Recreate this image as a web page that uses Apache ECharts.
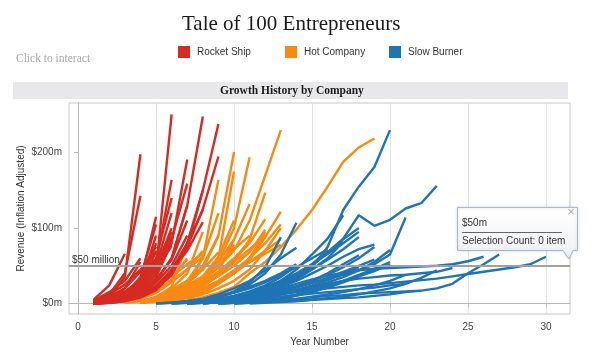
<!DOCTYPE html>
<html><head><meta charset="utf-8">
<script src="https://cdn.jsdelivr.net/npm/echarts@6/dist/echarts.min.js"></script>
<style>html,body{margin:0;padding:0;background:#fff}#chart{width:595px;height:353px}</style>
</head><body><div id="chart"></div>
<script>
// ---- data (each row: [startYear, revenue at startYear, next year, ...], $m) ----
const categories = ['Rocket Ship', 'Hot Company', 'Slow Burner'];
const yearTicks = [0, 5, 10, 15, 20, 25, 30];
const revenueTicks = [0, 100, 200];
const referenceValue = 50;

const rocketShip = [
  [1, 5, 24, 66],
  [1, 2, 8, 35, 198],
  [1, 3, 12, 40, 143],
  [1, 2, 6, 20, 55],
  [1, 4, 15, 30, 60],
  [1, 0, 3, 10, 30, 115],
  [1, 1, 4, 12, 35, 105],
  [1, 0, 2, 8, 25, 90],
  [1, 1, 3, 9, 22, 80],
  [1, 0, 2, 6, 18, 70],
  [1, 1, 5, 15, 28, 48, 100],
  [1, 0, 2, 8, 20, 45, 251],
  [1, 1, 3, 10, 25, 55, 164],
  [1, 0, 3, 9, 28, 60, 140],
  [1, 1, 2, 7, 20, 50, 120],
  [1, 0, 2, 6, 16, 40, 95],
  [1, 0, 2, 5, 14, 35, 80, 191],
  [1, 1, 3, 7, 18, 40, 85, 159],
  [1, 0, 1, 4, 12, 30, 60, 130],
  [1, 1, 2, 6, 15, 32, 58, 110],
  [1, 0, 2, 5, 12, 28, 50, 90],
  [1, 0, 2, 5, 12, 30, 60, 130, 248],
  [1, 0, 1, 4, 10, 22, 45, 80, 124],
  [1, 1, 2, 5, 11, 24, 44, 70, 108],
  [1, 0, 1, 3, 8, 18, 40, 80, 150, 238],
  [1, 0, 2, 4, 9, 20, 42, 75, 125, 195],
  [1, 0, 1, 3, 8, 18, 38, 75, 150],
  [1, 3, 9, 20, 42, 75],
  [1, 2, 6, 14, 30, 55, 88],
  [1, 4, 12, 25, 45, 68],
  [1, 2, 6, 15, 32, 58],
  [1, 2, 6, 12, 24, 45, 76],
  [1, 3, 8, 16, 30, 52, 85]
];

const hotCompany = [
  [4, 1, 4, 10, 18, 30, 48, 70, 110, 170, 230],
  [4, 2, 6, 14, 26, 45, 90, 201],
  [4, 1, 4, 9, 18, 32, 55, 100, 194],
  [5, 2, 6, 14, 28, 60, 175],
  [4, 1, 5, 12, 25, 60, 164],
  [4, 1, 3, 7, 14, 24, 38, 55, 85, 147],
  [5, 1, 4, 9, 16, 26, 40, 58, 88, 122],
  [4, 2, 5, 10, 20, 35, 55, 85, 132],
  [4, 2, 6, 14, 30, 60, 120],
  [4, 1, 4, 10, 20, 36, 62, 110],
  [5, 2, 5, 10, 18, 28, 42, 60, 80, 105],
  [5, 1, 3, 7, 12, 20, 30, 45, 70, 100],
  [3, 1, 3, 8, 16, 30, 50, 90],
  [4, 1, 3, 8, 15, 26, 42, 85],
  [5, 1, 4, 9, 16, 26, 40, 60, 95],
  [3, 2, 6, 14, 28, 45, 70],
  [4, 3, 9, 20, 40, 95],
  [3, 1, 6, 15, 32, 60],
  [4, 2, 8, 22, 80],
  [5, 2, 7, 14, 24, 36, 50, 68, 98],
  [5, 2, 6, 12, 20, 30, 42, 55, 66, 78],
  [4, 1, 4, 10, 20, 35, 60],
  [5, 3, 10, 20, 32, 48, 75],
  [5, 2, 8, 16, 28, 42, 60, 82],
  [6, 3, 9, 18, 30, 44, 60, 88],
  [3, 2, 8, 18, 30, 45, 62],
  [4, 2, 8, 18, 30, 45, 68],
  [4, 2, 6, 14, 24, 36, 50, 78],
  [5, 3, 10, 20, 34, 50, 72, 90],
  [3, 2, 8, 20, 38, 58],
  [6, 4, 12, 24, 38, 55, 72, 90],
  [7, 5, 14, 26, 40, 55, 70, 85],
  [6, 1, 4, 8, 14, 22, 40, 55, 75, 98, 124, 155, 188, 207, 219],
  [3, 3, 10, 22, 36, 52, 66],
  [5, 2, 6, 12, 22, 38, 58, 80, 112]
];

const slowBurner = [
  [8, 1, 3, 6, 10, 15, 22, 32, 48, 75, 124, 155, 181, 230],
  [8, 1, 3, 6, 10, 16, 24, 35, 50, 68, 86, 117, 103, 111, 126, 133, 156],
  [7, 0, 2, 4, 7, 10, 14, 18, 23, 28, 33, 38, 44, 52, 65, 114],
  [7, 0, 3, 8, 15, 25, 40, 65, 107],
  [7, 0, 3, 8, 16, 28, 48, 88],
  [8, 1, 4, 8, 13, 20, 30, 45, 65, 86, 117],
  [8, 1, 3, 6, 10, 15, 22, 32, 45, 60, 82],
  [9, 1, 3, 6, 10, 15, 22, 30, 38, 48, 60, 75],
  [9, 1, 2, 5, 8, 12, 17, 22, 28, 35, 44, 55, 71],
  [9, 0, 2, 5, 8, 12, 15, 18, 20, 22, 24, 25, 27, 29, 31, 33, 36, 39, 42, 45, 48, 52, 62],
  [9, 0, 1, 2, 3, 5, 6, 8, 10, 11, 13, 14, 15, 16, 17, 20, 26, 40, 52, 65],
  [8, 1, 3, 6, 10, 15, 20, 26, 32, 37, 41, 44, 46, 47, 48, 49, 50, 52, 56, 62],
  [8, 0, 2, 4, 7, 10, 14, 18, 22, 26, 30, 33, 35, 37, 38, 40, 42, 47],
  [6, 0, 1, 3, 6, 10, 16, 24, 35, 50],
  [7, 0, 2, 5, 9, 14, 20, 28, 38, 52, 70],
  [6, 1, 3, 6, 12, 20, 30, 44, 60, 74],
  [8, 0, 2, 4, 7, 11, 16, 22, 30, 40, 52, 64],
  [9, 0, 1, 3, 5, 8, 12, 17, 23, 30, 38, 46, 55],
  [7, 0, 1, 3, 5, 8, 12, 16, 21, 27, 34, 42, 50, 58],
  [8, 1, 2, 4, 6, 9, 12, 16, 20, 25, 30, 36, 43, 52],
  [6, 0, 2, 5, 9, 14, 20, 28, 38, 48, 60, 72],
  [7, 0, 1, 2, 4, 6, 9, 13, 18, 24, 31, 39, 48],
  [9, 0, 1, 1, 2, 3, 4, 5, 6, 7, 8, 10, 12, 15, 17],
  [10, 0, 1, 3, 6, 10, 15, 21, 28, 36, 45],
  [8, 0, 2, 5, 10, 17, 26, 38, 52, 66, 80, 95],
  [7, 1, 3, 6, 10, 15, 22, 30, 40, 52, 66, 85, 100],
  [5, 0, 1, 3, 6, 10, 15, 22, 30, 40, 52],
  [6, 0, 1, 2, 4, 7, 11, 16, 22, 30, 40, 50, 62, 72, 78],
  [5, 0, 1, 2, 4, 6, 9, 13, 18, 25, 34, 45, 58, 72, 88],
  [10, 0, 1, 2, 4, 6, 9, 12, 15, 19, 24, 30, 38],
  [7, 0, 1, 2, 3, 5, 7, 9, 11, 13, 15, 17, 19, 21, 24, 26],
  [11, 0, 1, 2, 3, 5, 7, 9, 12, 16, 20, 26, 34, 44]
];

// ---- styling ----
const COLORS = { 'Rocket Ship': '#d62b22', 'Hot Company': '#f88a12', 'Slow Burner': '#1f74b4' };
const SANS = '"Liberation Sans", Arial, sans-serif';
const SERIF = '"Liberation Serif", "Times New Roman", serif';

function toSeries(list, name) {
  const color = COLORS[name];
  return list.map(row => ({
    type: 'line', name: name, color: color,
    data: row.slice(1).map((v, i) => [row[0] + i, v]),
    symbol: 'none', showSymbol: false, silent: true,
    lineStyle: { width: 2.4, color: color },
    itemStyle: { color: color },
    emphasis: { disabled: true },
    animation: false
  }));
}

const series = [].concat(
  toSeries(hotCompany, 'Hot Company'),
  toSeries(rocketShip, 'Rocket Ship'),
  toSeries(slowBurner, 'Slow Burner')
);
series[series.length - 1].markLine = {
  silent: true, symbol: 'none', animation: false,
  lineStyle: { color: '#a0a0a0', width: 2, type: 'solid' },
  label: { show: true, position: 'insideStartTop', formatter: '$50 million',
           color: '#333', fontSize: 10, fontFamily: SANS, distance: [3, 1] },
  emphasis: { disabled: true },
  data: [{ yAxis: referenceValue }]
};

const legendBase = (name, left) => ({
  data: [name], left: left, top: 46, padding: 0, itemWidth: 12, itemHeight: 12, icon: 'rect',
  textStyle: { fontSize: 10, fontFamily: SANS, color: '#333', padding: [0, 0, 0, 2] }, selectedMode: false
});

const boxFill = { type: 'linear', x: 0, y: 0, x2: 0, y2: 1,
  colorStops: [{ offset: 0, color: '#ffffff' }, { offset: 1, color: '#eef0f3' }] };

const chart = echarts.init(document.getElementById('chart'), null, { renderer: 'canvas' });
chart.setOption({
  backgroundColor: '#fff',
  animation: false,
  title: [
    { text: 'Tale of 100 Entrepreneurs', left: 177, top: 9,
      textStyle: { fontFamily: SERIF, fontSize: 21, fontWeight: 'normal', color: '#1a1a1a' } },
    { text: 'Growth History by Company', left: 220, top: 85, padding: 0,
      textStyle: { fontFamily: SERIF, fontSize: 11.5, fontWeight: 'bold', color: '#1a1a1a' } }
  ],
  legend: [ legendBase(categories[0], 178), legendBase(categories[1], 285), legendBase(categories[2], 389) ],
  graphic: [
    { type: 'rect', z: -1, shape: { x: 13, y: 82, width: 555, height: 17 }, style: { fill: '#e8e8ea' } },
    { type: 'text', x: 16, y: 59, style: { text: 'Click to interact', font: '11.5px ' + SERIF, fill: '#a8a8a8', verticalAlign: 'middle' } },
    { type: 'polygon', z: 100,
      shape: { points: [[457.5, 207.5], [577.5, 207.5], [577.5, 250.5], [573, 250.5], [569, 259], [563, 250.5], [457.5, 250.5]] },
      style: { fill: boxFill, stroke: '#a6bad0', lineWidth: 1, shadowBlur: 3, shadowColor: 'rgba(0,0,0,0.15)' } },
    { type: 'text', z: 101, x: 462, y: 223, style: { text: '$50m', font: '10px ' + SANS, fill: '#333', verticalAlign: 'middle' } },
    { type: 'line', z: 101, shape: { x1: 462, y1: 232.5, x2: 562, y2: 232.5 }, style: { stroke: '#666', lineWidth: 1 } },
    { type: 'text', z: 101, x: 462, y: 241, style: { text: 'Selection Count: 0 item', font: '10px ' + SANS, fill: '#333', verticalAlign: 'middle' } },
    { type: 'text', z: 101, x: 571, y: 212, style: { text: '×', font: '13px ' + SANS, fill: '#aaa', align: 'center', verticalAlign: 'middle' } }
  ],
  grid: { left: 69, right: 25, top: 103, bottom: 39, show: true, borderColor: '#c6c6c6', borderWidth: 1, backgroundColor: 'transparent' },
  xAxis: {
    type: 'value', min: -0.58, max: 31.54,
    name: 'Year Number', nameLocation: 'middle', nameGap: 23, nameMoveOverlap: false,
    nameTextStyle: { fontSize: 10, fontFamily: SANS, color: '#333' },
    axisLine: { show: true, lineStyle: { color: '#b8b8b8' } },
    axisTick: { show: true, length: 4, customValues: yearTicks, lineStyle: { color: '#b8b8b8' } },
    axisLabel: { customValues: yearTicks, margin: 8, fontSize: 10, fontFamily: SANS, color: '#444' },
    splitLine: { show: true, lineStyle: { color: '#e3e3e3', width: 1 } }
  },
  yAxis: {
    type: 'value', min: -14, max: 266,
    name: 'Revenue (Inflation Adjusted)', nameLocation: 'middle', nameGap: 43, nameRotate: 90, nameMoveOverlap: false,
    nameTextStyle: { fontSize: 10, fontFamily: SANS, color: '#333' },
    axisLine: { show: true, lineStyle: { color: '#b8b8b8' } },
    axisTick: { show: true, length: 4, customValues: revenueTicks, lineStyle: { color: '#b8b8b8' } },
    axisLabel: { customValues: revenueTicks, margin: 7, fontSize: 10, fontFamily: SANS, color: '#444',
                 formatter: v => '$' + v + 'm' },
    splitLine: { show: false }
  },
  series: series
});
</script></body></html>
